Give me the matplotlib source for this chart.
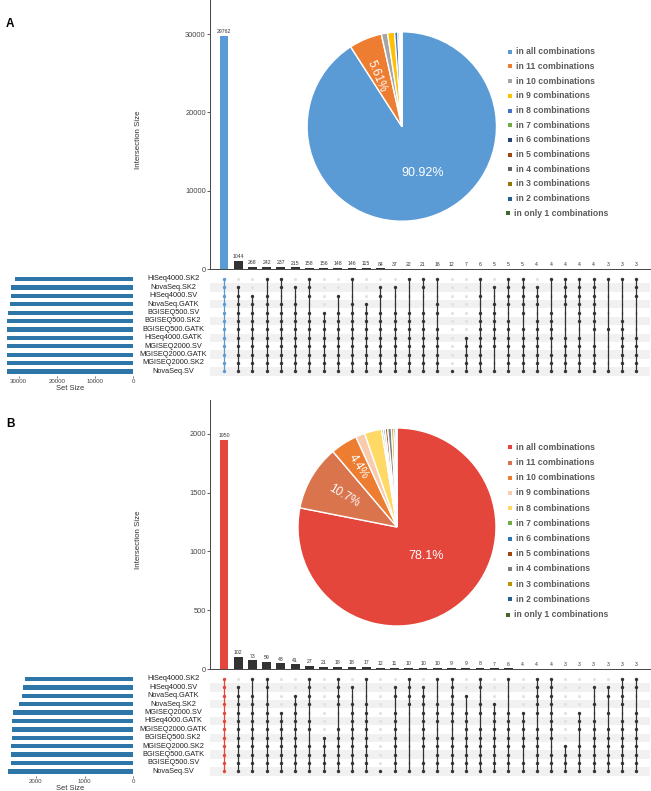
import matplotlib.pyplot as plt
import numpy as np

plt.rcParams['font.family'] = ['Liberation Sans', 'DejaVu Sans']

W, H = 651, 791

# ---------------- panel A data ----------------
sets_a = ["HiSeq4000.SK2", "NovaSeq.SK2", "HiSeq4000.SV", "NovaSeq.GATK",
          "BGISEQ500.SV", "BGISEQ500.SK2", "BGISEQ500.GATK", "HiSeq4000.GATK",
          "MGISEQ2000.SV", "MGISEQ2000.GATK", "MGISEQ2000.SK2", "NovaSeq.SV"]
set_size_a = [30900, 31900, 31950, 32200, 32900, 32950, 33000, 33020,
              33050, 33060, 33080, 33150]
counts_a = [29762, 1044, 268, 242, 237, 215, 158, 156, 148, 146, 115, 84, 37,
            22, 21, 16, 12, 7, 6, 5, 5, 5, 4, 4, 4, 4, 4, 3, 3, 3]
# one string per intersection column, one char per set row (1 = member)
combos_a = ["111111111111", "011111111111", "001111111111", "101111111111",
            "110111111111", "010111111111", "111011111111", "000011111111",
            "001011111111", "100111111111", "000111111111", "011011111111",
            "010011111111", "100011111111", "110011111111", "100110111111",
            "000000000001", "000000011111", "101011111111", "010111111001",
            "111101111111", "111110111111", "011101111111", "100011110111",
            "111100011111", "111111011111", "111111101111", "100000100001",
            "100001111111", "111000011111"]
pie_a = [90.92, 5.61, 1.05, 1.2, 0.55, 0.3, 0.15, 0.08, 0.05, 0.03, 0.02, 0.04]
colors_a = ["#5b9bd5", "#ed7d31", "#a5a5a5", "#ffc000", "#4472c4", "#70ad47",
            "#264478", "#9e480e", "#636363", "#997300", "#255e91", "#43682b"]

# ---------------- panel B data ----------------
sets_b = ["HiSeq4000.SK2", "HiSeq4000.SV", "NovaSeq.GATK", "NovaSeq.SK2",
          "MGISEQ2000.SV", "HiSeq4000.GATK", "MGISEQ2000.GATK", "BGISEQ500.SK2",
          "MGISEQ2000.SK2", "BGISEQ500.GATK", "BGISEQ500.SV", "NovaSeq.SV"]
set_size_b = [2220, 2270, 2285, 2340, 2465, 2490, 2495, 2500, 2505, 2510,
              2515, 2580]
counts_b = [1950, 102, 73, 59, 48, 41, 27, 21, 18, 18, 17, 12, 11, 10, 10, 10,
            9, 9, 8, 7, 6, 4, 4, 4, 3, 3, 3, 3, 3, 3]
combos_b = ["111111111111", "011111111111", "101111111111", "110111111111",
            "000011111111", "001111111111", "111101101111", "000000011111",
            "111100111111", "010111111111", "100111111111", "000000000001",
            "011011111111", "111100000001", "011111111011", "100111011111",
            "111111011111", "001011111111", "110110111111", "000111111111",
            "100011111111", "000011111011", "111110111111", "111111110111",
            "000000001111", "000011101111", "010101111111", "011010111111",
            "111101111111", "110011111111"]
pie_b = [78.1, 10.7, 4.4, 1.5, 2.8, 0.3, 0.3, 0.4, 0.6, 0.4, 0.3, 0.2]
colors_b = ["#e5463b", "#d9744c", "#ed7d31", "#f8cbad", "#ffd966", "#70ad47",
            "#2e75b6", "#9e480e", "#7f7f7f", "#bf9000", "#255e91", "#43682b"]

legend_labels = ["in all combinations", "in 11 combinations", "in 10 combinations",
                 "in 9 combinations", "in 8 combinations", "in 7 combinations",
                 "in 6 combinations", "in 5 combinations", "in 4 combinations",
                 "in 3 combinations", "in 2 combinations", "in only 1 combinations"]

fig = plt.figure(figsize=(W / 100, H / 100), dpi=100)
over = fig.add_axes([0, 0, 1, 1])
over.set_xlim(0, W)
over.set_ylim(H, 0)
over.axis("off")
over.set_zorder(10)


def px_axes(x, y, w, h):
    return fig.add_axes([x / W, 1 - (y + h) / H, w / W, h / H])


def draw_panel(dy, letter, sets, sizes, size_max, size_ticks, counts, combos,
               ymax, yticks, main, pie_vals, pie_cols, pcx, pcy, pr, pie_txt,
               leg_y0, leg_dy):
    n = len(counts)
    xl = (-0.985, 29.96)
    grey = "#333333"

    # intersection bars
    ax = px_axes(210, dy, 440, 269)
    ax.bar(range(n), counts, width=0.62, color=[main] + [grey] * (n - 1))
    for i, c in enumerate(counts):
        ax.annotate(str(c), (i, c), xytext=(0, 1.2), textcoords="offset points",
                    ha="center", va="bottom", fontsize=3.7, color="#333333")
    ax.set_xlim(*xl)
    ax.set_ylim(0, ymax)
    ax.set_xticks([])
    ax.set_yticks(yticks)
    ax.tick_params(axis="y", labelsize=5.4, length=2, width=0.6,
                   colors="#444444", pad=1)
    for s in ["top", "right"]:
        ax.spines[s].set_visible(False)
    for s in ["left", "bottom"]:
        ax.spines[s].set_color("#444444")
        ax.spines[s].set_linewidth(0.7)
    over.text(138, dy + 140, "Intersection Size", rotation=90, ha="center",
              va="center", fontsize=5.7, color="#333333")

    # matrix
    mx = px_axes(210, dy + 274.8, 440, 100.8)
    for r in range(1, 12, 2):
        mx.axhspan(r - 0.5, r + 0.5, color="#f1f1f1", zorder=0, lw=0)
    for j, cstr in enumerate(combos):
        rows_in = [r for r, ch in enumerate(cstr) if ch == "1"]
        rows_out = [r for r, ch in enumerate(cstr) if ch == "0"]
        col = main if j == 0 else grey
        mx.scatter([j] * len(rows_out), rows_out, s=5, color="#e2e2e2",
                   zorder=2, lw=0)
        if len(rows_in) > 1:
            mx.plot([j, j], [min(rows_in), max(rows_in)], color=col, lw=0.9,
                    zorder=3)
        mx.scatter([j] * len(rows_in), rows_in, s=6, color=col, zorder=4, lw=0)
    mx.set_xlim(*xl)
    mx.set_ylim(11.5, -0.5)
    mx.axis("off")

    for r, name in enumerate(sets):
        over.text(173, dy + 279 + 8.4 * r, name, ha="center", va="center",
                  fontsize=5.3, color="#222222")

    # set sizes
    sx = px_axes(0, dy + 274.8, 133.3, 100.8)
    sx.barh(range(12), sizes, height=0.5, color="#2f76a8")
    sx.set_xlim(size_max, 0)
    sx.set_ylim(11.5, -0.5)
    sx.set_yticks([])
    sx.set_xticks(size_ticks)
    sx.tick_params(axis="x", labelsize=4.4, length=1.5, width=0.5,
                   colors="#444444", pad=1)
    for s in sx.spines.values():
        s.set_visible(False)
    over.text(70, dy + 388, "Set Size", ha="center", va="center", fontsize=5.4,
              color="#333333")

    # pie
    px = px_axes(pcx - pr * 1.1, pcy - pr * 1.1, 2.2 * pr, 2.2 * pr)
    px.pie(pie_vals, colors=pie_cols, startangle=90, counterclock=False,
           radius=1, wedgeprops=dict(edgecolor="white", linewidth=1.0))
    px.set_xlim(-1.1, 1.1)
    px.set_ylim(-1.1, 1.1)
    px.set_aspect("equal")
    for (tx, ty, s, rot) in pie_txt:
        px.text(tx, ty, s, color="white", fontsize=9 if rot == 0 else 8.5,
                rotation=rot, ha="center", va="center")

    # legend
    for i, lab in enumerate(legend_labels):
        yy = leg_y0 + leg_dy * i
        sh = -2 if i == len(legend_labels) - 1 else 0
        over.scatter(510 + sh, yy, marker="s", s=5, color=pie_cols[i], lw=0)
        over.text(516.5 + sh, yy, lab, ha="left", va="center", fontsize=6.2,
                  fontweight="bold", color="#5a5a5a")

    over.text(6, dy + 24, letter, ha="left", va="center", fontsize=8.5,
              fontweight="bold", color="black")


txt_a = [(0.22, -0.49, "90.92%", 0), (-0.27, 0.53, "5.61%", -67.4)]
draw_panel(0, "A", sets_a, set_size_a, 34900, [30000, 20000, 10000, 0],
           counts_a, combos_a, 34350, [0, 10000, 20000, 30000], "#5b9bd5",
           pie_a, colors_a, 401.8, 126.5, 94.7, txt_a, 51.7, 14.7)

ang10 = np.deg2rad(149.5)
ang4 = np.deg2rad(122.4)
txt_b = [(0.29, -0.29, "78.1%", 0),
         (0.62 * np.cos(ang10), 0.62 * np.sin(ang10), "10.7%", -30.5),
         (0.72 * np.cos(ang4), 0.72 * np.sin(ang4), "4.4%", -57.6)]
draw_panel(400, "B", sets_b, set_size_b, 2737, [2000, 1000, 0],
           counts_b, combos_b, 2289, [0, 500, 1000, 1500, 2000], "#e5463b",
           pie_b, colors_b, 397, 527, 99, txt_b, 447.3, 15.2)

fig.savefig("out.png", dpi=100)
